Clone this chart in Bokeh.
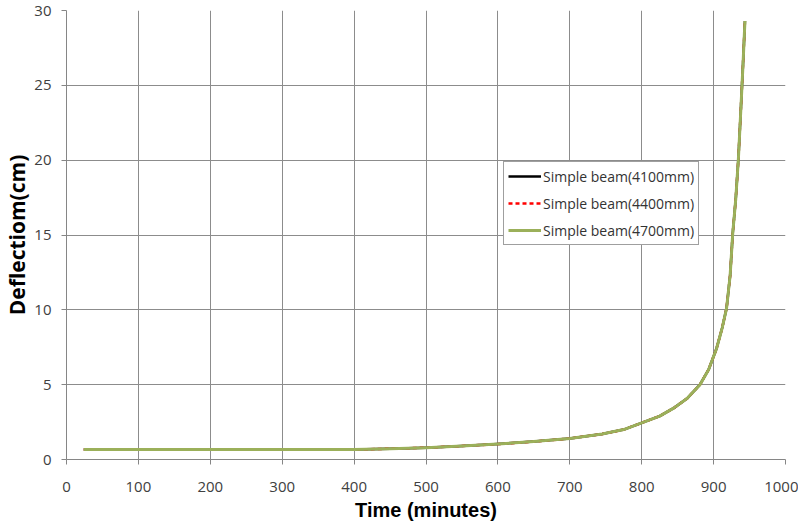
from bokeh.plotting import figure
from bokeh.models import Legend, LegendItem, FixedTicker, Range1d
from bokeh.embed import file_html
from bokeh.resources import INLINE

# Time (minutes)
time_min = [24, 100, 200, 300, 400, 450, 500, 550, 600, 650, 700, 745, 775, 800,
            825, 845, 863, 881, 893, 904, 912, 918, 923, 926.6, 930.8, 934.5, 938, 941, 943.6]
# Deflection (cm) for each span (the three curves overlap)
defl_4100 = [0.67, 0.67, 0.67, 0.67, 0.67, 0.72, 0.79, 0.9, 1.03, 1.2, 1.4, 1.7, 2.0, 2.45,
             2.9, 3.45, 4.07, 5.0, 6.0, 7.4, 8.8, 10.1, 12.3, 15.1, 17.4, 20.1, 23.5, 26.5, 29.3]
defl_4400 = [0.67, 0.67, 0.67, 0.67, 0.67, 0.72, 0.79, 0.9, 1.03, 1.2, 1.4, 1.7, 2.0, 2.45,
             2.9, 3.45, 4.07, 5.0, 6.0, 7.4, 8.8, 10.1, 12.3, 15.1, 17.4, 20.1, 23.5, 26.5, 29.3]
defl_4700 = [0.67, 0.67, 0.67, 0.67, 0.67, 0.72, 0.79, 0.9, 1.03, 1.2, 1.4, 1.7, 2.0, 2.45,
             2.9, 3.45, 4.07, 5.0, 6.0, 7.4, 8.8, 10.1, 12.3, 15.1, 17.4, 20.1, 23.5, 26.5, 29.3]
series_names = ["Simple beam(4100mm)", "Simple beam(4400mm)", "Simple beam(4700mm)"]
x_ticks = [0, 100, 200, 300, 400, 500, 600, 700, 800, 900, 1000]
y_ticks = [0, 5, 10, 15, 20, 25, 30]

p = figure(frame_width=719, frame_height=449, output_backend="svg", toolbar_location=None,
           x_range=Range1d(0, 1000), y_range=Range1d(0, 30),
           min_border_left=56, min_border_top=10, min_border_right=13, min_border_bottom=50)
p.background_fill_color = "white"
p.border_fill_color = "white"
p.outline_line_color = None

r1 = p.line(time_min, defl_4100, line_color="black", line_width=2.5, line_join="round")
r2 = p.line(time_min, defl_4400, line_color="red", line_width=2.5, line_dash="4 3", line_join="round")
r3 = p.line(time_min, defl_4700, line_color="#9bb05a", line_width=3, line_join="round")

for ax in (p.xaxis[0], p.yaxis[0]):
    ax.axis_line_color = "#868686"
    ax.major_tick_line_color = "#868686"
    ax.major_tick_out = 5
    ax.major_tick_in = 0
    ax.minor_tick_line_color = None
    ax.major_label_text_font = "Open Sans"
    ax.major_label_text_font_size = "15px"
    ax.major_label_text_color = "#404040"
    ax.axis_label_text_font_style = "bold"
    ax.axis_label_text_color = "black"

p.xaxis.ticker = FixedTicker(ticks=x_ticks)
p.yaxis.ticker = FixedTicker(ticks=y_ticks)
p.xaxis.axis_label = "Time (minutes)"
p.yaxis.axis_label = "Deflectiom(cm)"
p.xaxis[0].axis_label_text_font = "Liberation Sans"
p.xaxis[0].axis_label_text_font_size = "20px"
p.yaxis[0].axis_label_text_font = "Open Sans"
p.yaxis[0].axis_label_text_font_size = "21px"
p.xaxis.major_label_standoff = 17
p.yaxis.major_label_standoff = 10
p.xaxis.axis_label_standoff = 4
p.yaxis.axis_label_standoff = 0

p.xgrid.grid_line_color = "#8c8c8c"
p.ygrid.grid_line_color = "#8c8c8c"
p.xgrid.grid_line_width = 1
p.ygrid.grid_line_width = 1

legend = Legend(items=[LegendItem(label=series_names[0], renderers=[r1]),
                       LegendItem(label=series_names[1], renderers=[r2]),
                       LegendItem(label=series_names[2], renderers=[r3])],
                location=(437, 214))
legend.border_line_color = "#404040"
legend.border_line_width = 1
legend.background_fill_color = "white"
legend.background_fill_alpha = 1
legend.label_text_font = "Open Sans"
legend.label_text_font_size = "14px"
legend.label_text_color = "#333333"
legend.glyph_width = 33
legend.glyph_height = 20
legend.spacing = 7
legend.padding = 4
legend.margin = 0
legend.label_standoff = 2
p.add_layout(legend, "center")

open("out.html", "w").write(file_html(p, INLINE))
